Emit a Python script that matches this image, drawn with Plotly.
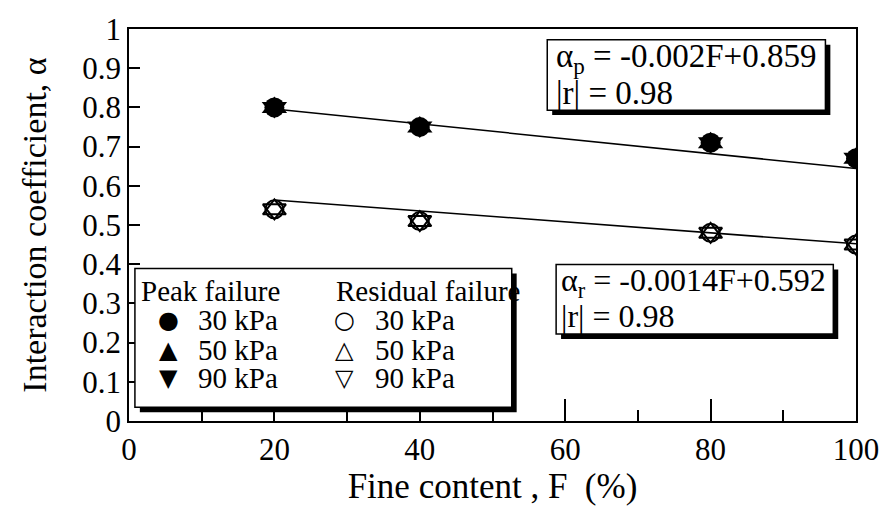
import plotly.graph_objects as go

# ---------------- data ----------------
fines = [20, 40, 80, 100]
peak_30 = [0.80, 0.75, 0.71, 0.67]
peak_50 = [0.80, 0.75, 0.71, 0.67]
peak_90 = [0.80, 0.75, 0.71, 0.67]
res_30 = [0.54, 0.51, 0.48, 0.45]
res_50 = [0.54, 0.51, 0.48, 0.45]
res_90 = [0.54, 0.51, 0.48, 0.45]
fit_F = [20, 100]
fit_peak = [0.796, 0.644]
fit_res = [0.564, 0.452]
pressures = ["30 kPa", "50 kPa", "90 kPa"]
x_ticks = [0, 20, 40, 60, 80, 100]

FONT = "Liberation Serif"
SYMFONT = "DejaVu Sans"
W, H = 891, 511
L, R, T, B = 129, 25, 20, 90
PW, PH = W - L - R, H - T - B


def px(xp):
    return (xp - L) / PW


def py(yp):
    return (H - B - yp) / PH


fig = go.Figure()

fig.add_trace(go.Scatter(x=fit_F, y=fit_peak, mode="lines",
                         line=dict(color="black", width=1.5), showlegend=False))
fig.add_trace(go.Scatter(x=fit_F, y=fit_res, mode="lines",
                         line=dict(color="black", width=1.5), showlegend=False))

peak_sets = [peak_30, peak_50, peak_90]
res_sets = [res_30, res_50, res_90]
peak_sym = ["circle", "triangle-up", "triangle-down"]
res_sym = ["circle-open", "triangle-up-open", "triangle-down-open"]
sym_size = [20, 22, 22]

for name, vals, sym, sz in zip(pressures, peak_sets, peak_sym, sym_size):
    fig.add_trace(go.Scatter(x=fines, y=vals, mode="markers", name="Peak " + name,
                             marker=dict(symbol=sym, size=sz, color="black",
                                         line=dict(width=0)),
                             showlegend=False))
for name, vals, sym, sz in zip(pressures, res_sets, res_sym, sym_size):
    fig.add_trace(go.Scatter(x=fines, y=vals, mode="markers", name="Residual " + name,
                             marker=dict(symbol=sym, size=sz - 2, color="black",
                                         line=dict(width=2, color="black")),
                             showlegend=False))

shapes = []


def box(x0, y0, x1, y1, off=5):
    shapes.append(dict(type="rect", xref="paper", yref="paper",
                       x0=px(x0 + off), x1=px(x1 + off), y0=py(y1 + off), y1=py(y0 + off),
                       fillcolor="black", line=dict(width=0), layer="above"))
    shapes.append(dict(type="rect", xref="paper", yref="paper",
                       x0=px(x0), x1=px(x1), y0=py(y1), y1=py(y0),
                       fillcolor="white", line=dict(width=1.5, color="black"), layer="above"))


box(553, 31, 835, 103)
box(562, 261, 843, 332)
box(135, 265, 517, 407)

annos = []


def txt(x, y, s, size=33, family=FONT, anchor="left"):
    annos.append(dict(x=px(x), y=py(y), xref="paper", yref="paper", text=s,
                      showarrow=False, xanchor=anchor, yanchor="middle",
                      font=dict(family=family, size=size, color="black")))


txt(560, 50, "α<sub>p</sub> = -0.002F+0.859")
txt(560, 85, "|r| = 0.98")
txt(565, 279, "α<sub>r</sub> = -0.0014F+0.592", 32)
txt(565, 314, "|r| = 0.98", 32)

# legend (drawn as text)
txt(139, 288, "Peak failure", 29)
txt(337, 288, "Residual failure", 29)
peak_glyph = ["●", "▲", "▼"]
res_glyph = ["○", "△", "▽"]
row_y = [318, 348, 377]
for g, lab, yy in zip(peak_glyph, pressures, row_y):
    txt(169, yy, g, 24, SYMFONT, "center")
    txt(197, yy, lab, 29)
for g, lab, yy in zip(res_glyph, pressures, row_y):
    txt(347, yy, g, 24, SYMFONT, "center")
    txt(376, yy, lab, 29)

fig.update_layout(
    width=W, height=H,
    margin=dict(l=L, r=R, t=T, b=B),
    paper_bgcolor="white", plot_bgcolor="white",
    font=dict(family=FONT, size=31, color="black"),
    shapes=shapes, annotations=annos, showlegend=False,
    xaxis=dict(range=[0, 100], tickvals=x_ticks, ticks="inside", ticklen=22,
               tickwidth=1.5, tickcolor="black",
               minor=dict(dtick=10, ticks="inside", ticklen=11, tickwidth=1.5, tickcolor="black"),
               showline=True, linewidth=1.5, linecolor="black", mirror=True,
               showgrid=False, zeroline=False,
               title=dict(text="Fine content , F  (%)", font=dict(family=FONT, size=35), standoff=8)),
    yaxis=dict(range=[0, 1], dtick=0.1, ticks="inside", ticklen=11,
               tickwidth=1.5, tickcolor="black",
               showline=True, linewidth=1.5, linecolor="black", mirror=True,
               showgrid=False, zeroline=False,
               title=dict(text="Interaction coefficient, α", font=dict(family=FONT, size=34), standoff=25)),
    xaxis2=dict(range=[0, 100], overlaying="x", side="top", dtick=10, ticks="inside",
                ticklen=10, tickwidth=1.5, tickcolor="black", showticklabels=False,
                showgrid=False, zeroline=False, showline=False),
    yaxis2=dict(range=[0, 1], overlaying="y", side="right", dtick=0.1, ticks="inside",
                ticklen=15, tickwidth=1.5, tickcolor="black", showticklabels=False,
                showgrid=False, zeroline=False, showline=False),
)

fig.write_html("out.html")
